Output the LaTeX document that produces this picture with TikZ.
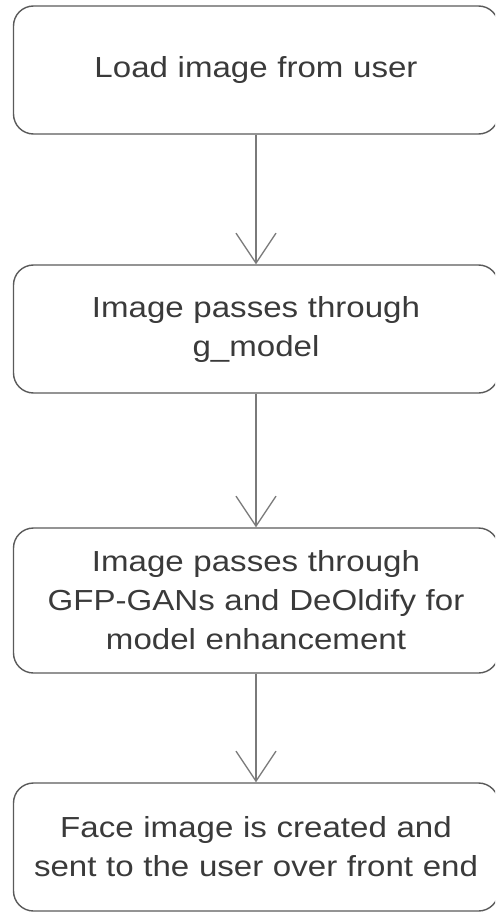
\documentclass[tikz,border=0pt]{standalone}
\usepackage{fontspec}
\setmainfont[FakeStretch=1.14]{Liberation Sans}
\usetikzlibrary{arrows.meta}
\definecolor{boxline}{HTML}{5A5A5A}
\definecolor{flowline}{HTML}{7A7A7A}
\definecolor{labeltext}{HTML}{3A3A3A}
\tikzset{
  stage/.style={draw=boxline, line width=1.4pt, rounded corners=20pt,
    minimum width=485pt, text width=475pt, align=center,
    text=labeltext, font=\fontsize{29}{39}\selectfont, inner sep=0pt},
  flow/.style={draw=flowline, line width=1.3pt,
    -{Straight Barb[length=30pt,width=40pt,line width=1.3pt]}}
}
\begin{document}
\begin{tikzpicture}[x=1pt,y=-1pt]
  \useasboundingbox (0,0) rectangle (495,912);
  \clip (0,0) rectangle (495,912);
  \node[stage, minimum height=128pt] (load) at (256,70) {Load image from user};
  \node[stage, minimum height=128pt] (gmodel) at (256,329) {Image passes through\\g\_model};
  \node[stage, minimum height=145pt] (enhance) at (256,600.5) {Image passes through\\GFP-GANs and DeOldify for\\model enhancement};
  \node[stage, minimum height=128pt] (face) at (256,847) {Face image is created and\\sent to the user over front end};
  \draw[flow] (load.south) -- (gmodel.north);
  \draw[flow] (gmodel.south) -- (enhance.north);
  \draw[flow] (enhance.south) -- (face.north);
\end{tikzpicture}
\end{document}
